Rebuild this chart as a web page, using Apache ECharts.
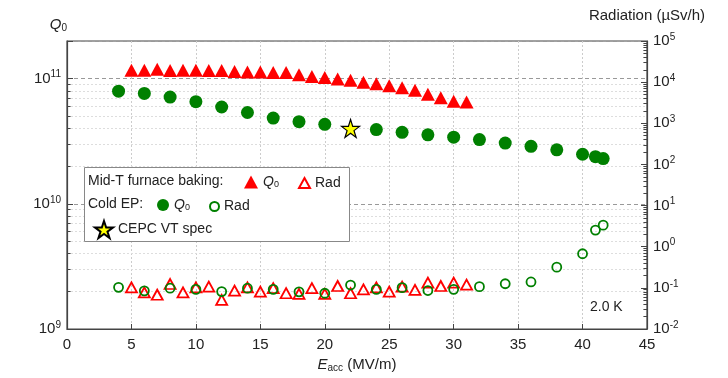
<!DOCTYPE html>
<html>
<head>
<meta charset="utf-8">
<script src="https://cdn.jsdelivr.net/npm/echarts@6/dist/echarts.min.js"></script>
<style>
  html, body { margin: 0; padding: 0; background: #fff; }
  #chart { width: 728px; height: 378px; }
</style>
</head>
<body>
<div id="chart"></div>
<script>
// Mid-T furnace baking, Q0 and radiation vs Eacc
var midE = [5, 6, 7, 8, 9, 10, 11, 12, 13, 14, 15, 16, 17, 18, 19, 20, 21, 22, 23, 24, 25, 26, 27, 28, 29, 30, 31];
var midQ0 = [1.17e11, 1.17e11, 1.19e11, 1.16e11, 1.17e11, 1.17e11, 1.16e11, 1.16e11, 1.14e11, 1.13e11, 1.13e11, 1.12e11, 1.12e11,
  1.075e11, 1.04e11, 1.02e11, 0.995e11, 0.97e11, 0.935e11, 0.91e11, 0.88e11, 0.845e11, 0.81e11, 0.75e11, 0.705e11, 0.66e11, 0.65e11];
var midRad = [0.103, 0.078, 0.068, 0.124, 0.078, 0.103, 0.107, 0.051, 0.086, 0.103, 0.081, 0.098, 0.074, 0.071,
  0.098, 0.071, 0.111, 0.074, 0.092, 0.103, 0.081, 0.107, 0.089, 0.134, 0.111, 0.134, 0.12];

// Cold EP
var epE = [4, 6, 8, 10, 12, 14, 16, 18, 20, 24, 26, 28, 30, 32, 34, 36, 38, 40, 41, 41.6];
var epQ0 = [7.94e10, 7.62e10, 7.13e10, 6.55e10, 5.94e10, 5.37e10, 4.84e10, 4.53e10, 4.32e10, 3.92e10,
  3.73e10, 3.56e10, 3.41e10, 3.26e10, 3.06e10, 2.88e10, 2.70e10, 2.49e10, 2.38e10, 2.30e10];
var epRadE = [4, 6, 8, 10, 12, 14, 16, 18, 20, 22, 24, 26, 28, 30, 32, 34, 36, 38, 40, 41, 41.6];
var epRad = [0.103, 0.0845, 0.098, 0.092, 0.081, 0.098, 0.092, 0.080, 0.074, 0.117, 0.092, 0.101, 0.086, 0.092,
  0.107, 0.126, 0.139, 0.318, 0.675, 2.54, 3.34];

// CEPC vertical test spec
var specE = [22];
var specQ0 = [4e10];

var xTicks = [0, 5, 10, 15, 20, 25, 30, 35, 40, 45];
var minorMult = [2, 3, 4, 5, 6, 7, 8, 9];
var qDecades = [1e9, 1e10];
var radDecades = [1e-2, 1e-1, 1, 1e1, 1e2, 1e3, 1e4];

function pairs(xs, ys) {
  return xs.map(function (x, i) { return [x, ys[i]]; });
}
function minors(decades) {
  var out = [];
  decades.forEach(function (d) { minorMult.forEach(function (m) { out.push(m * d); }); });
  return out;
}
var minorQ = minors(qDecades);
var minorRad = minors(radDecades);

var FONT = 'Liberation Sans, Arial, sans-serif';
var starPath = 'path://M50,2 L61.8,37.6 L99,37.6 L68.9,59.6 L80.4,95 L50,73.1 L19.6,95 L31.1,59.6 L1,37.6 L38.2,37.6 Z';

function powLabel(v) {
  var p = Math.log10(v);
  var r = Math.round(p);
  if (Math.abs(p - r) > 1e-6) return '';
  return '{b|10}{s|' + r + '}';
}
var powRich = {
  b: { fontSize: 15, color: '#222', fontFamily: FONT },
  s: { fontSize: 10, color: '#222', fontFamily: FONT, verticalAlign: 'top', padding: [0, 0, 8, 0] }
};
var q0Rich = {
  i: { fontSize: 14, fontStyle: 'italic', color: '#222', fontFamily: FONT },
  sub: { fontSize: 9, color: '#222', fontFamily: FONT, verticalAlign: 'bottom', padding: [6, 0, 0, 0] }
};
var tickLine = { color: '#444', width: 1, type: 'solid' };

function legendItem(name, left, top, w, h, label) {
  return {
    data: [name], left: left, top: top, padding: 0, itemWidth: w, itemHeight: h,
    textStyle: { fontSize: 14, color: '#222', fontFamily: FONT, rich: q0Rich },
    formatter: function () { return label; }
  };
}

var option = {
  animation: false,
  backgroundColor: '#fff',
  textStyle: { fontFamily: FONT },
  grid: { left: 67, right: 81, top: 41, bottom: 45, show: true, borderColor: '#444', borderWidth: 1.2, backgroundColor: 'transparent' },
  xAxis: {
    type: 'value', min: 0, max: 45, interval: 5,
    name: '{i|E}{sub|acc}{t| (MV/m)}', nameLocation: 'middle', nameGap: 28,
    nameTextStyle: {
      rich: {
        i: { fontSize: 15, fontStyle: 'italic', color: '#222', fontFamily: FONT },
        sub: { fontSize: 10, color: '#222', fontFamily: FONT, verticalAlign: 'bottom', padding: [6, 0, 0, 0] },
        t: { fontSize: 15, color: '#222', fontFamily: FONT }
      }
    },
    axisLine: { lineStyle: { color: '#444', width: 1.2 } },
    axisTick: { inside: true, length: 5, lineStyle: { color: '#444' } },
    axisLabel: { fontSize: 15, color: '#222', margin: 8,
      formatter: function (v) { return xTicks.indexOf(v) >= 0 ? String(v) : ''; } },
    splitLine: { show: true, lineStyle: { color: '#ccc', type: [2, 2], width: 1 } }
  },
  yAxis: [
    {
      type: 'log', logBase: 10, min: 1e9, max: 2e11, position: 'left',
      name: '{i|Q}{sub|0}', nameLocation: 'end', nameGap: 8,
      nameTextStyle: {
        align: 'right',
        rich: {
          i: { fontSize: 15, fontStyle: 'italic', color: '#222', fontFamily: FONT },
          sub: { fontSize: 10, color: '#222', fontFamily: FONT, verticalAlign: 'bottom', padding: [6, 0, 0, 0] }
        }
      },
      axisLine: { show: true, lineStyle: { color: '#444', width: 1.2 } },
      axisTick: { inside: true, length: 6, lineStyle: { color: '#444' } },
      axisLabel: { formatter: powLabel, rich: powRich, margin: 6 },
      splitLine: { show: true, lineStyle: { color: '#999', type: [4, 3], width: 1 } }
    },
    {
      type: 'log', logBase: 10, min: 0.01, max: 1e5, position: 'right',
      name: 'Radiation (µSv/h)', nameLocation: 'end', nameGap: 18,
      nameTextStyle: { fontSize: 15, color: '#222', fontFamily: FONT, align: 'center' },
      axisLine: { show: true, lineStyle: { color: '#444', width: 1.2 } },
      axisTick: { inside: true, length: 6, lineStyle: { color: '#444' } },
      axisLabel: { formatter: powLabel, rich: powRich, margin: 6 },
      splitLine: { show: false }
    }
  ],
  legend: [
    legendItem('Mid-T Q0', 244, 175, 14, 13, '{i|Q}{sub|0}'),
    legendItem('Mid-T Rad', 298, 176, 11, 10, 'Rad'),
    legendItem('Cold EP Q0', 157, 198, 12, 12, '{i|Q}{sub|0}'),
    legendItem('Cold EP Rad', 209, 199.5, 9, 9, 'Rad'),
    legendItem('CEPC VT spec', 94, 220, 18, 18, 'CEPC VT spec')
  ],
  graphic: [
    { type: 'rect', left: 84, top: 167, z: 3, shape: { width: 265, height: 74 },
      style: { fill: '#fff', stroke: '#888', lineWidth: 1 } },
    { type: 'text', left: 88, top: 174, z: 5,
      style: { text: 'Mid-T furnace baking:', fontSize: 14, fill: '#222', fontFamily: FONT } },
    { type: 'text', left: 88, top: 197, z: 5,
      style: { text: 'Cold EP:', fontSize: 14, fill: '#222', fontFamily: FONT } },
    { type: 'text', left: 590, top: 300, z: 5,
      style: { text: '2.0 K', fontSize: 14, fill: '#222', fontFamily: FONT } }
  ],
  series: [
    {
      name: 'Mid-T Q0', type: 'scatter', yAxisIndex: 0, data: pairs(midE, midQ0),
      symbol: 'triangle', symbolSize: [14, 13], itemStyle: { color: '#ff0000', opacity: 1, borderWidth: 0 },
      markLine: {
        silent: true, symbol: 'none', label: { show: false }, animation: false, z: 1,
        lineStyle: { color: '#ddd', type: [2, 2], width: 1 },
        data: minorQ.map(function (q) { return { yAxis: q }; })
      }
    },
    {
      name: 'Mid-T Rad', type: 'scatter', yAxisIndex: 1, data: pairs(midE, midRad),
      symbol: 'triangle', symbolSize: [11, 10],
      itemStyle: { color: 'rgba(255,255,255,0)', borderColor: '#ff0000', borderWidth: 1.8, opacity: 1 }
    },
    {
      name: 'Cold EP Q0', type: 'scatter', yAxisIndex: 0, data: pairs(epE, epQ0),
      symbol: 'circle', symbolSize: 13, itemStyle: { color: '#008000', opacity: 1, borderWidth: 0 },
      markLine: {
        silent: true, symbol: 'none', label: { show: false }, animation: false, z: 1,
        lineStyle: tickLine,
        data: minorQ.map(function (q) { return [{ coord: [0, q] }, { coord: [0.28, q] }]; })
      }
    },
    {
      name: 'Cold EP Rad', type: 'scatter', yAxisIndex: 1, data: pairs(epRadE, epRad),
      symbol: 'circle', symbolSize: 9,
      itemStyle: { color: 'rgba(255,255,255,0)', borderColor: '#008000', borderWidth: 1.8, opacity: 1 },
      markLine: {
        silent: true, symbol: 'none', label: { show: false }, animation: false, z: 1,
        lineStyle: tickLine,
        data: minorRad.map(function (r) { return [{ coord: [44.72, r] }, { coord: [45, r] }]; })
      }
    },
    {
      name: 'CEPC VT spec', type: 'scatter', yAxisIndex: 0, data: pairs(specE, specQ0), z: 3,
      symbol: starPath, symbolSize: 18, itemStyle: { color: '#ffff00', borderColor: '#000', borderWidth: 1.2, opacity: 1 }
    }
  ]
};

var myChart = echarts.init(document.getElementById('chart'));
myChart.setOption(option, true);
</script>
</body>
</html>
